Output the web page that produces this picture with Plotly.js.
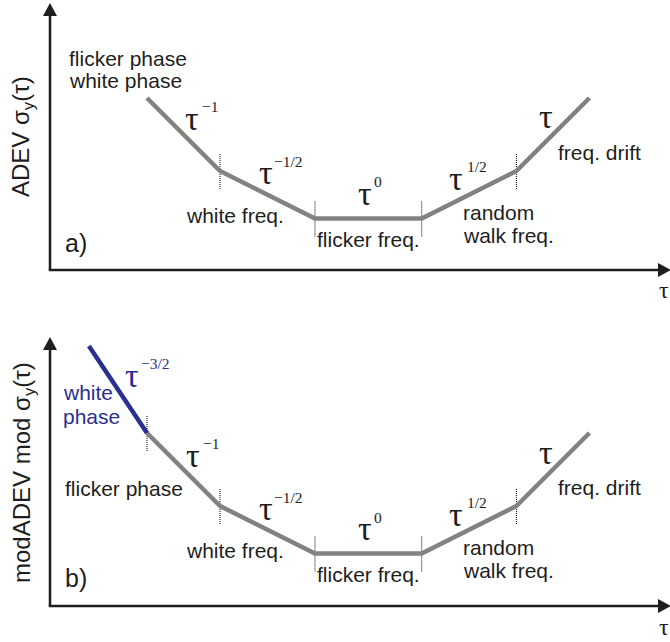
<!DOCTYPE html>
<html>
<head>
<meta charset="utf-8">
<script src="https://cdn.plot.ly/plotly-3.0.1.min.js"></script>
<style>
  html, body { margin: 0; padding: 0; background: #ffffff; }
  #chart { width: 670px; height: 642px; }
</style>
</head>
<body>
<div id="chart"></div>
<script>
// Piecewise power-law stability curves on log-log axes.
// a) Allan deviation, b) modified Allan deviation.
const tauA = [1, 10, 200, 5800, 1.15e5, 1.15e6];
const sigmaA = [1, 0.1, 0.0224, 0.0224, 0.1, 1];

const tauWhitePhase = [0.16, 1];
const sigmaWhitePhase = [15.6, 1];
const tauB = [1, 10, 200, 5800, 1.15e5, 1.15e6];
const sigmaB = [1, 0.1, 0.0224, 0.0224, 0.1, 1];

// corner points marked with short dotted ticks
const cornerTauA = [10, 200, 5800, 1.15e5];
const cornerSigmaA = [0.1, 0.0224, 0.0224, 0.1];
const cornerTauB = [1, 10, 200, 5800, 1.15e5];
const cornerSigmaB = [1, 0.1, 0.0224, 0.0224, 0.1];

// slope exponents of each segment (tau^n)
const slopeExpA = ['\u22121', '\u22121/2', '0', '1/2', ''];
const slopeExpB = ['\u22123/2', '\u22121', '\u22121/2', '0', '1/2', ''];

// noise-type labels
const noiseA = ['flicker phase', 'white phase', 'white freq.', 'flicker freq.', 'random', 'walk freq.', 'freq. drift'];
const noiseB = ['white', 'phase', 'flicker phase', 'white freq.', 'flicker freq.', 'random', 'walk freq.', 'freq. drift'];

const yTitleA = 'ADEV \u03c3<sub>y</sub>(\u03c4)';
const yTitleB = 'modADEV mod \u03c3<sub>y</sub>(\u03c4)';
const panelTags = ['a)', 'b)'];
const xTitle = '\u03c4';

// ---- page geometry ----
const W = 670, H = 642;
const px = x => x / W;
const py = y => 1 - y / H;
const PPD = 73;              // pixels per decade on both axes
const TICK = Math.pow(10, 18 / PPD);

const GRAY = '#828282';
const BLUE = '#2b2f8f';
const INK = '#1e1e1e';
const SANS = 'Liberation Sans, Arial, sans-serif';
const SERIF = 'Liberation Serif, Times New Roman, serif';

function ticks(taus, sigmas) {
  const x = [], y = [];
  taus.forEach((t, i) => {
    x.push(t, t, null);
    y.push(sigmas[i] / TICK, sigmas[i] * TICK, null);
  });
  return { x, y };
}
const tkA = ticks(cornerTauA, cornerSigmaA);
const tkB = ticks(cornerTauB, cornerSigmaB);

const traces = [
  { x: tkA.x, y: tkA.y, xaxis: 'x', yaxis: 'y', mode: 'lines',
    line: { color: '#000000', width: 1, dash: '1px,1px' }, hoverinfo: 'skip' },
  { x: tauA, y: sigmaA, xaxis: 'x', yaxis: 'y', mode: 'lines',
    line: { color: GRAY, width: 4.5 } },
  { x: tkB.x, y: tkB.y, xaxis: 'x2', yaxis: 'y2', mode: 'lines',
    line: { color: '#000000', width: 1, dash: '1px,1px' }, hoverinfo: 'skip' },
  { x: tauB, y: sigmaB, xaxis: 'x2', yaxis: 'y2', mode: 'lines',
    line: { color: GRAY, width: 4.5 } },
  { x: tauWhitePhase, y: sigmaWhitePhase, xaxis: 'x2', yaxis: 'y2', mode: 'lines',
    line: { color: BLUE, width: 4.5 } }
];

// ---- annotations ----
const ann = [];
function txt(text, x, y, opts) {
  ann.push(Object.assign({
    text, x: px(x), y: py(y), xref: 'paper', yref: 'paper',
    showarrow: false, xanchor: 'left', yanchor: 'middle', borderpad: 0,
    font: { family: SANS, size: 21, color: INK }
  }, opts || {}));
}
function tau(x, y, exp, ex, ey, color) {
  txt('\u03c4', x, y, { xanchor: 'center', font: { family: SERIF, size: 34, color: color || INK } });
  if (exp) txt(exp, ex, ey, { font: { family: SERIF, size: 15.5, color: color || INK } });
}

// ---- axis lines with arrow heads (paper coordinates) ----
const shapes = [];
function vAxis(x, top, bottom) {
  shapes.push({ type: 'line', xref: 'paper', yref: 'paper',
    x0: px(x), x1: px(x), y0: py(bottom), y1: py(top + 10), line: { color: INK, width: 2.5 } });
  shapes.push({ type: 'path', xref: 'paper', yref: 'paper', fillcolor: INK, line: { width: 0 },
    path: `M${px(x - 7)},${py(top + 13)} L${px(x)},${py(top)} L${px(x + 7)},${py(top + 13)} Z` });
}
function hAxis(y, left, right) {
  shapes.push({ type: 'line', xref: 'paper', yref: 'paper',
    x0: px(left - 1.25), x1: px(right - 10), y0: py(y), y1: py(y), line: { color: INK, width: 2.5 } });
  shapes.push({ type: 'path', xref: 'paper', yref: 'paper', fillcolor: INK, line: { width: 0 },
    path: `M${px(right - 13)},${py(y - 7)} L${px(right)},${py(y)} L${px(right - 13)},${py(y + 7)} Z` });
}
vAxis(50, 3, 270);
hAxis(270, 50, 671);
vAxis(50, 337, 606);
hAxis(606, 50, 671);

// panel a
txt(noiseA[0], 68, 58);
txt(noiseA[1], 68, 81);
tau(192, 119, slopeExpA[0], 201, 107);
tau(266, 173, slopeExpA[1], 273, 162);
txt(noiseA[2], 185, 215);
tau(365, 193, slopeExpA[2], 373, 182);
txt(noiseA[3], 316, 239);
tau(456, 179, slopeExpA[3], 466, 167);
txt(noiseA[4], 462, 212);
txt(noiseA[5], 462, 235);
tau(546, 116);
txt(noiseA[6], 557, 152);
txt(panelTags[0], 64, 243, { font: { family: SANS, size: 25, color: INK } });
txt(yTitleA, 23, 137, { xanchor: 'center', textangle: -90, font: { family: SANS, size: 24, color: INK } });
txt(xTitle, 670, 290, { xanchor: 'right', font: { family: SERIF, size: 24, color: INK } });

// panel b
txt(noiseB[0], 62, 392, { font: { family: SANS, size: 21, color: BLUE } });
txt(noiseB[1], 62, 416, { font: { family: SANS, size: 21, color: BLUE } });
tau(132, 375, slopeExpB[0], 140, 364, BLUE);
tau(193, 455, slopeExpB[1], 202, 443);
txt(noiseB[2], 64, 488);
tau(266, 508, slopeExpB[2], 273, 497);
txt(noiseB[3], 185, 550);
tau(365, 528, slopeExpB[3], 373, 517);
txt(noiseB[4], 316, 574);
tau(456, 514, slopeExpB[4], 466, 502);
txt(noiseB[5], 462, 547);
txt(noiseB[6], 462, 570);
tau(546, 452);
txt(noiseB[7], 557, 487);
txt(panelTags[1], 64, 578, { font: { family: SANS, size: 25, color: INK } });
txt(yTitleB, 23, 473, { xanchor: 'center', textangle: -90, font: { family: SANS, size: 24, color: INK } });
txt(xTitle, 670, 627, { xanchor: 'right', font: { family: SERIF, size: 24, color: INK } });

const xr = [-97 / PPD, -97 / PPD + 620 / PPD];
const layout = {
  width: W, height: H,
  margin: { l: 0, r: 0, t: 0, b: 0 },
  paper_bgcolor: '#ffffff', plot_bgcolor: 'rgba(0,0,0,0)',
  showlegend: false,
  xaxis:  { type: 'log', domain: [px(50), 1], range: xr, visible: false, anchor: 'y' },
  yaxis:  { type: 'log', domain: [py(270), py(3)], range: [-172 / PPD, 95 / PPD], visible: false, anchor: 'x' },
  xaxis2: { type: 'log', domain: [px(50), 1], range: xr, visible: false, anchor: 'y2' },
  yaxis2: { type: 'log', domain: [py(606), py(338)], range: [-173 / PPD, 95 / PPD], visible: false, anchor: 'x2' },
  shapes: shapes,
  annotations: ann
};

Plotly.newPlot('chart', traces, layout, { staticPlot: true, displayModeBar: false });
</script>
</body>
</html>
